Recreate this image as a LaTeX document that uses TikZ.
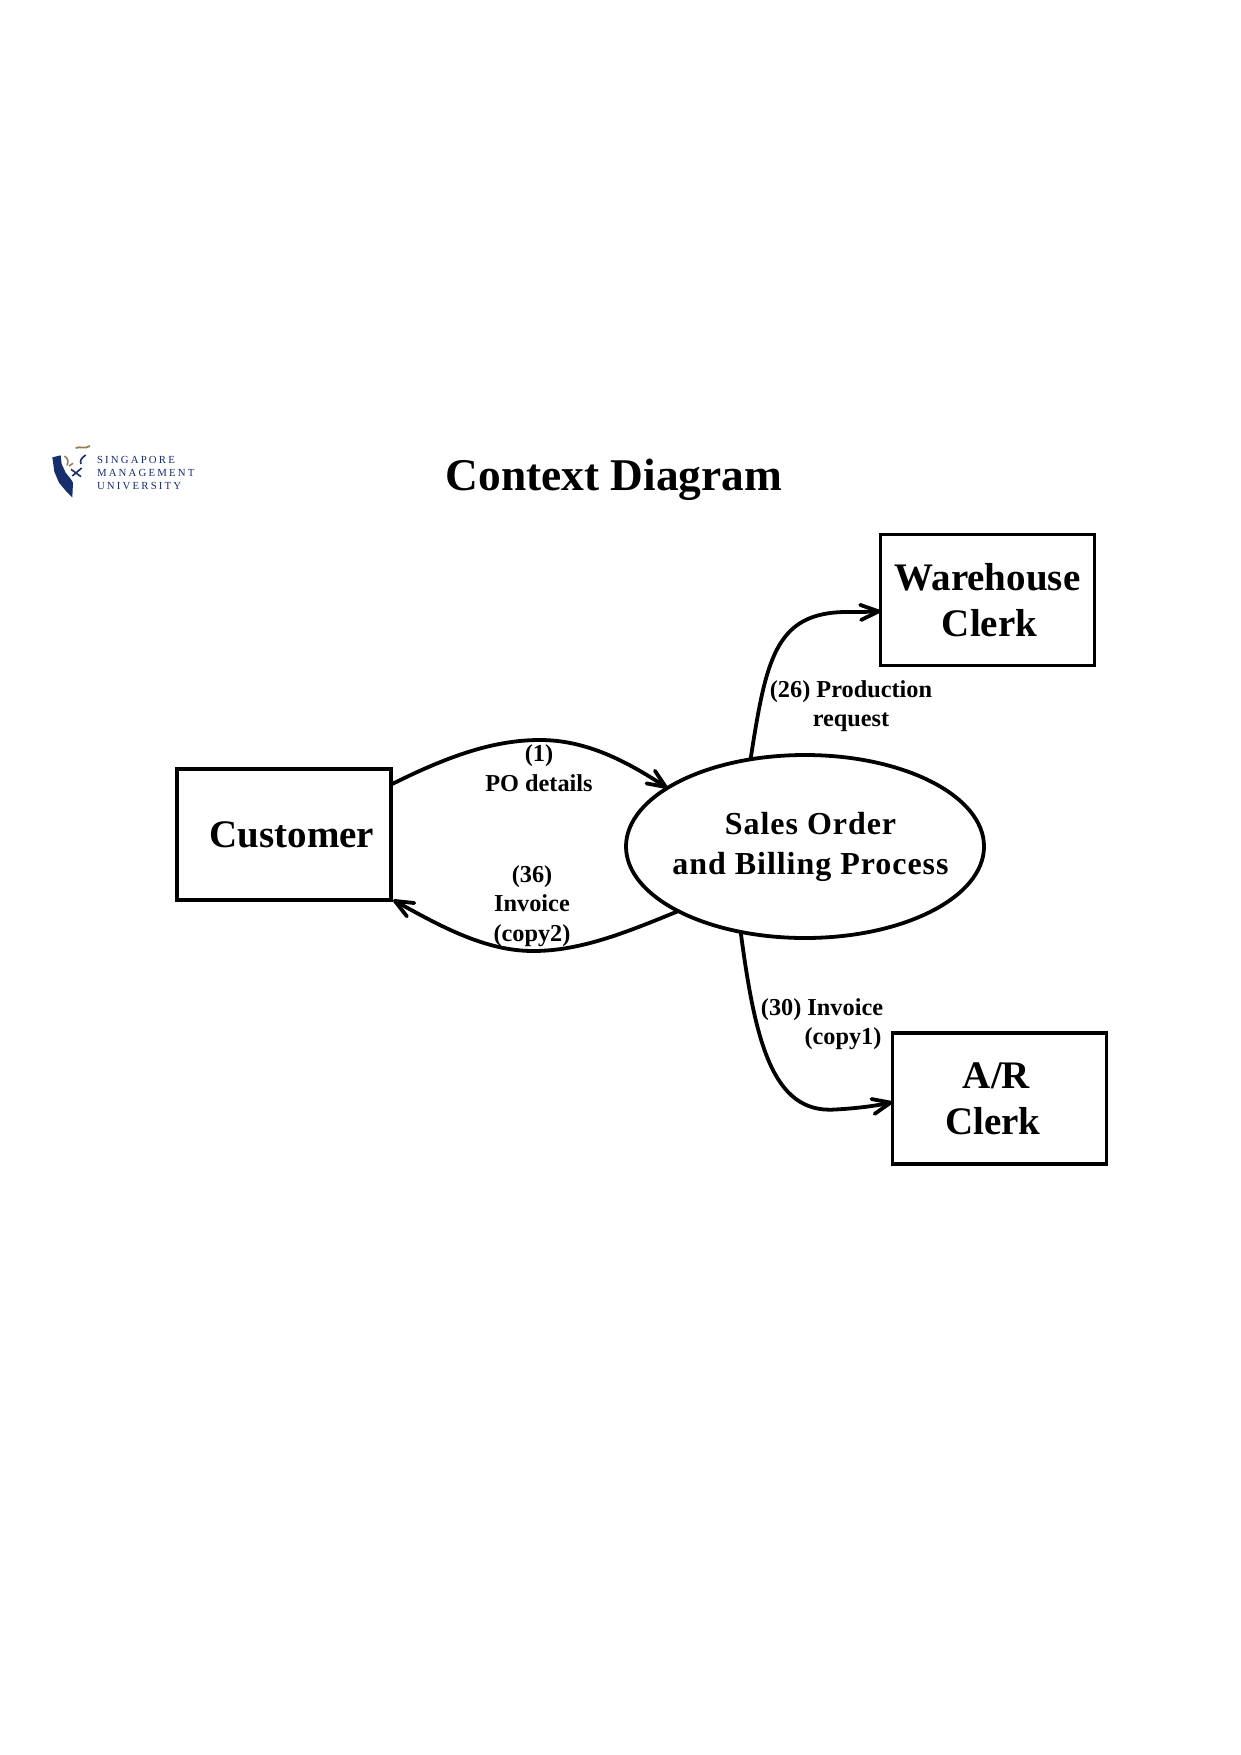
\documentclass[tikz,border=0pt]{standalone}
\usepackage{fontspec}
\setmainfont{Liberation Serif}
\usetikzlibrary{shapes.geometric,arrows.meta}
\definecolor{smublue}{RGB}{22,46,110}
\definecolor{smutan}{RGB}{150,125,90}
\pgfdeclarearrow{
  name=Chevron,
  setup code={
    \pgfarrowssettipend{1.9pt}
    \pgfarrowssetlineend{-1pt}
    \pgfarrowssetbackend{-19pt}
    \pgfarrowssetvisualbackend{-1pt}
    \pgfarrowshullpoint{1.9pt}{0pt}
    \pgfarrowshullpoint{-19pt}{9.5pt}
    \pgfarrowshullpoint{-19pt}{-9.5pt}
  },
  drawing code={
    \pgfsetdash{}{0pt}
    \pgfsetroundcap
    \pgfsetroundjoin
    \pgfpathmoveto{\pgfpoint{-18pt}{7.6pt}}
    \pgfpathlineto{\pgfpointorigin}
    \pgfpathlineto{\pgfpoint{-18pt}{-7.6pt}}
    \pgfusepathqstroke
  },
  defaults={}
}
\tikzset{
  boxnode/.style={draw,line width=3.4pt,rectangle,minimum width=214pt,minimum height=131pt,inner sep=0pt,outer sep=0pt,align=center,font=\fontsize{39}{46}\selectfont\bfseries},
  procnode/.style={draw,line width=3.8pt,ellipse,minimum width=358pt,minimum height=183pt,inner sep=0pt,outer sep=0pt,align=center,font=\fontsize{32}{40}\selectfont\bfseries\addfontfeature{LetterSpace=3}},
  flowlabel/.style={inner sep=0pt,outer sep=0pt,align=center,font=\fontsize{24.3}{29.5}\selectfont\bfseries},
  flow/.style={line width=3.8pt,-{Chevron}},
  logotext/.style={inner sep=0pt,outer sep=0pt,anchor=west,text=smublue,font=\fontsize{10.8}{12}\selectfont\addfontfeature{LetterSpace=20}}
}
\begin{document}
\begin{tikzpicture}[x=1pt,y=-1pt]
\useasboundingbox (0,0) rectangle (1240,1755);
\fill[white] (0,0) rectangle (1240,1755);
% logo
\begin{scope}[shift={(45,440)},x=0.3333pt,y=-0.3333pt]
  \fill[smublue] (22,52) -- (47,46) -- (50,72) -- (62,98) -- (78,118) -- (84,128) -- (82,172) -- (62,152) -- (42,128) -- (28,95) -- cycle;
  \draw[smutan,line width=1.8pt] (92,24) .. controls (105,18) and (120,28) .. (135,18);
  \draw[smutan,line width=1.6pt] (58,48) .. controls (68,55) and (72,62) .. (66,76) (72,78) -- (84,70);
  \draw[smublue,line width=1.6pt] (122,45) .. controls (108,55) and (104,62) .. (108,72) (78,88) -- (108,110) (110,84) -- (82,108);
\end{scope}
\node[logotext] (logoa) at (97,460) {SINGAPORE};
\node[logotext] (logob) at (97,473) {MANAGEMENT};
\node[logotext] (logoc) at (97,486.5) {UNIVERSITY};
% title
\node[inner sep=0pt,font=\fontsize{45.4}{50}\selectfont\bfseries] (title) at (614,479.5) {Context Diagram};
% nodes
\node[boxnode] (cust) at (284,834.5) {\raisebox{-1pt}{\hspace*{16pt}Customer}};
\node[boxnode] (ware) at (987.5,600) {Warehouse\\\hspace*{4pt}Clerk};
\node[boxnode] (arcl) at (999.5,1098.5) {\hspace*{-6pt}A/R\\\hspace*{-13pt}Clerk};
\node[procnode] (sales) at (805,846.5) {\raisebox{2pt}{\makebox[0pt]{\hspace*{11pt}Sales Order}}\\\raisebox{2pt}{\makebox[0pt]{\hspace*{11pt}and Billing Process}}};
% flows
\draw[flow] (cust.25.8) .. controls (450,755) and (495,740) .. (540,740) .. controls (585,740) and (625,760) .. (sales.157.5);
\draw[flow,shorten >=2.5pt] (sales.207.3) .. controls (625,933) and (580,951) .. (533,951) .. controls (485,951) and (440,926) .. (cust.-31);
\draw[flow] (sales.122.5) .. controls (766,660) and (775,613) .. (845,612) .. controls (856,612) and (868,612) .. (ware.186.9);
\draw[flow] (sales.233.3) .. controls (755,1040) and (772,1114) .. (835,1109.5) .. controls (855,1108.5) and (875,1106) .. (arcl.182.4);
% labels
\node[flowlabel] (la) at (539,768) {(1)\\PO details};
\node[flowlabel] (lb) at (532,906) {(36)\\Invoice\\(copy2)};
\node[flowlabel] (lc) at (851,706) {(26) Production\\request};
\node[flowlabel] (ld) at (822,1024) {(30) Invoice\\\hspace*{42pt}(copy1)};
\end{tikzpicture}
\end{document}
